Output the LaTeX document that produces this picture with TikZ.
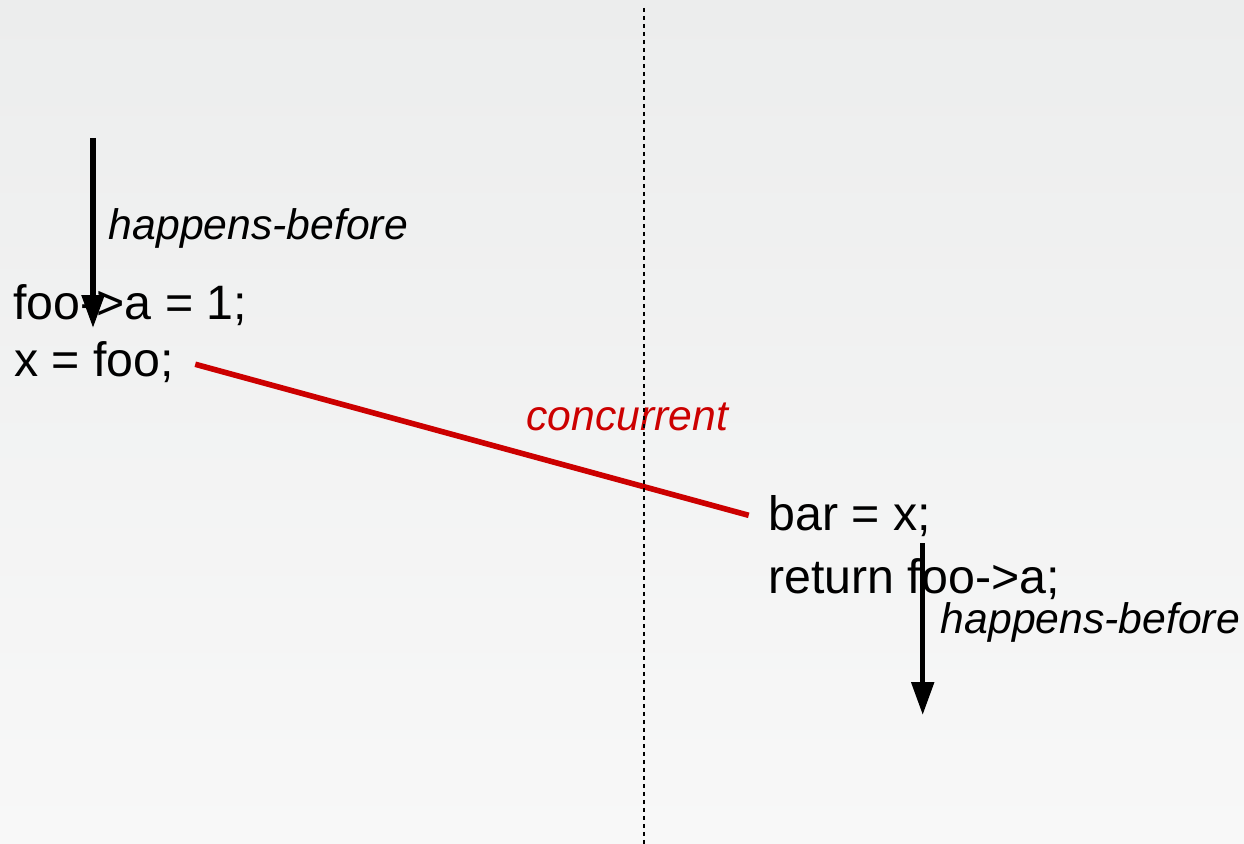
\documentclass[tikz,border=0pt]{standalone}
\usepackage{fontspec}
\setmainfont{Liberation Sans}
\usetikzlibrary{positioning,arrows.meta}

\definecolor{bgtop}{RGB}{236,237,237}
\definecolor{bgbot}{RGB}{248,248,248}
\definecolor{racered}{RGB}{204,0,0}

\begin{document}
\begin{tikzpicture}[x=0.02cm, y=-0.02cm,
    >={Triangle[length=0.66cm, width=0.44cm]},
    code/.style={inner sep=0pt, anchor=base west, font=\fontsize{27.5}{33}\selectfont},
    hblabel/.style={inner sep=0pt, anchor=base west, font=\fontsize{24.3}{29}\selectfont\itshape},
    hbarrow/.style={->, line width=3pt},
    race/.style={draw=racered, line width=3.2pt}]

% page with a soft grey fade
\fill[top color=bgtop, bottom color=bgbot] (0,0) rectangle (1244,844);
\useasboundingbox (0,0) rectangle (1244,844);

% thread 1
\node[code] (fooa) at (13,320) {foo->a = 1;};
\node[code] (xfoo) at (14,377) {x = foo;};

% thread 2
\node[code] (barx) at (768,530) {bar = x;};
\node[code] (retfoo) at (768,593) {return foo->a;};

% ordering inside each thread
\coordinate (hb1top) at (93,138);
\coordinate (hb1tip) at (93,328);
\coordinate (hb2top) at (922.7,543);
\coordinate (hb2tip) at (922.7,715);
\draw[hbarrow] (hb1top) -- (hb1tip);
\draw[hbarrow] (hb2top) -- (hb2tip);
\node[hblabel] (hb1) at (108.5,240) {happens-before};
\node[hblabel] (hb2) at (940.5,633) {happens-before};

% no ordering across threads
\draw[race, shorten <=0.43cm, shorten >=0.4cm]
  ([yshift=0.08cm]xfoo.east) -- ([yshift=-0.1cm]barx.west);
\node[hblabel, text=racered] (conc) at (526,430) {concurrent};

% split between the two threads
\coordinate (splittop) at (644,8);
\coordinate (splitbot) at (644,844);
\draw[line width=0.6pt, dash pattern=on 0.08cm off 0.08cm] (splittop) -- (splitbot);

\end{tikzpicture}
\end{document}
